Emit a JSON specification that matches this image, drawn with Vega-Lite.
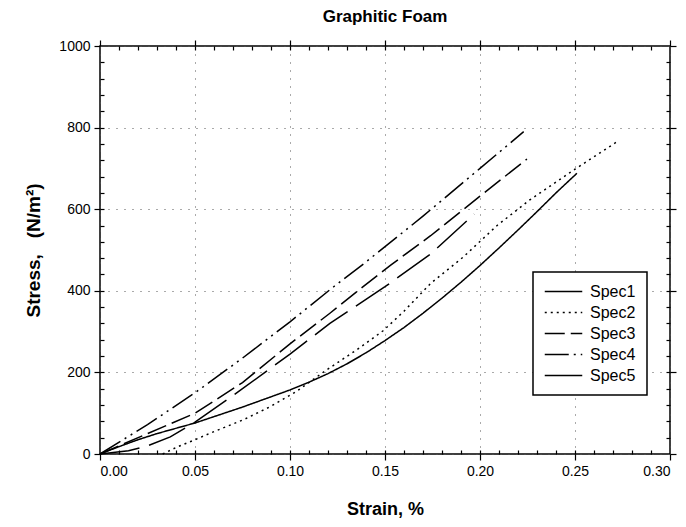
{
  "$schema": "https://vega.github.io/schema/vega-lite/v6.json",
  "width": 570,
  "height": 408,
  "autosize": "none",
  "padding": {"left": 100, "top": 46, "right": 16, "bottom": 73},
  "background": "white",
  "title": {
    "text": "Graphitic Foam",
    "font": "Liberation Sans",
    "fontSize": 17,
    "fontWeight": "bold",
    "color": "black",
    "anchor": "middle",
    "offset": 13
  },
  "config": {
    "view": {"stroke": "black", "strokeWidth": 1.5},
    "axis": {
      "labelFont": "Liberation Sans",
      "labelFontSize": 14,
      "labelColor": "black",
      "titleFont": "Liberation Sans",
      "titleFontSize": 18,
      "titleFontWeight": "bold",
      "titleColor": "black",
      "tickColor": "black",
      "tickWidth": 1.2,
      "gridColor": "#555",
      "gridDash": [1, 7],
      "gridWidth": 1,
      "domain": false
    },
    "legend": {
      "orient": "none",
      "legendX": 433,
      "legendY": 226,
      "strokeColor": "black",
      "strokeWidth": 1.5,
      "fillColor": "white",
      "padding": 11,
      "symbolType": "M -2.5 0 H 2.5",
      "symbolSize": 225,
      "symbolStrokeWidth": 1.5,
      "symbolStrokeColor": "black",
      "symbolFillColor": "transparent",
      "symbolOffset": 11,
      "labelOffset": 18,
      "labelFont": "Liberation Sans",
      "labelFontSize": 16,
      "labelColor": "black",
      "rowPadding": 4
    }
  },
  "data": {
    "values": [
      {"s": "Spec1", "x": 0, "y": 0},
      {"s": "Spec1", "x": 0.01, "y": 18},
      {"s": "Spec1", "x": 0.02, "y": 35},
      {"s": "Spec1", "x": 0.03, "y": 50},
      {"s": "Spec1", "x": 0.05, "y": 76},
      {"s": "Spec1", "x": 0.075, "y": 115},
      {"s": "Spec1", "x": 0.1, "y": 157},
      {"s": "Spec1", "x": 0.11, "y": 176},
      {"s": "Spec1", "x": 0.12, "y": 197},
      {"s": "Spec1", "x": 0.13, "y": 221},
      {"s": "Spec1", "x": 0.14, "y": 248},
      {"s": "Spec1", "x": 0.15, "y": 278},
      {"s": "Spec1", "x": 0.16, "y": 310},
      {"s": "Spec1", "x": 0.17, "y": 345},
      {"s": "Spec1", "x": 0.18, "y": 382},
      {"s": "Spec1", "x": 0.19, "y": 421},
      {"s": "Spec1", "x": 0.2, "y": 462},
      {"s": "Spec1", "x": 0.21, "y": 505},
      {"s": "Spec1", "x": 0.22, "y": 549},
      {"s": "Spec1", "x": 0.23, "y": 594},
      {"s": "Spec1", "x": 0.24, "y": 640},
      {"s": "Spec1", "x": 0.251, "y": 688},
      {"s": "Spec2", "x": 0.033, "y": 0},
      {"s": "Spec2", "x": 0.041, "y": 18},
      {"s": "Spec2", "x": 0.05, "y": 35},
      {"s": "Spec2", "x": 0.059, "y": 53},
      {"s": "Spec2", "x": 0.076, "y": 85},
      {"s": "Spec2", "x": 0.09, "y": 117},
      {"s": "Spec2", "x": 0.103, "y": 152},
      {"s": "Spec2", "x": 0.118, "y": 202},
      {"s": "Spec2", "x": 0.135, "y": 255},
      {"s": "Spec2", "x": 0.149, "y": 302},
      {"s": "Spec2", "x": 0.16, "y": 350},
      {"s": "Spec2", "x": 0.174, "y": 418},
      {"s": "Spec2", "x": 0.191, "y": 482},
      {"s": "Spec2", "x": 0.209, "y": 560},
      {"s": "Spec2", "x": 0.226, "y": 622},
      {"s": "Spec2", "x": 0.25, "y": 698},
      {"s": "Spec2", "x": 0.272, "y": 765},
      {"s": "Spec3", "x": 0, "y": 0},
      {"s": "Spec3", "x": 0.025, "y": 50},
      {"s": "Spec3", "x": 0.05, "y": 100},
      {"s": "Spec3", "x": 0.075, "y": 175},
      {"s": "Spec3", "x": 0.1, "y": 270},
      {"s": "Spec3", "x": 0.121, "y": 345},
      {"s": "Spec3", "x": 0.139, "y": 412},
      {"s": "Spec3", "x": 0.153, "y": 463},
      {"s": "Spec3", "x": 0.174, "y": 535},
      {"s": "Spec3", "x": 0.2, "y": 632},
      {"s": "Spec3", "x": 0.2247, "y": 723},
      {"s": "Spec4", "x": 0, "y": 0},
      {"s": "Spec4", "x": 0.025, "y": 72},
      {"s": "Spec4", "x": 0.05, "y": 150},
      {"s": "Spec4", "x": 0.075, "y": 235},
      {"s": "Spec4", "x": 0.1, "y": 324},
      {"s": "Spec4", "x": 0.123, "y": 410},
      {"s": "Spec4", "x": 0.139, "y": 467},
      {"s": "Spec4", "x": 0.17, "y": 583},
      {"s": "Spec4", "x": 0.2, "y": 700},
      {"s": "Spec4", "x": 0.223, "y": 790},
      {"s": "Spec5", "x": 0, "y": 0},
      {"s": "Spec5", "x": 0.015, "y": 8},
      {"s": "Spec5", "x": 0.025, "y": 20},
      {"s": "Spec5", "x": 0.037, "y": 42},
      {"s": "Spec5", "x": 0.05, "y": 78},
      {"s": "Spec5", "x": 0.075, "y": 160},
      {"s": "Spec5", "x": 0.1, "y": 245},
      {"s": "Spec5", "x": 0.121, "y": 320},
      {"s": "Spec5", "x": 0.15, "y": 410},
      {"s": "Spec5", "x": 0.174, "y": 490},
      {"s": "Spec5", "x": 0.197, "y": 588}
    ]
  },
  "layer": [
    {
      "mark": {"type": "line", "color": "black", "strokeWidth": 1.5},
      "encoding": {
        "x": {
          "field": "x",
          "type": "quantitative",
          "scale": {"domain": [0, 0.3], "nice": false, "zero": false},
          "axis": {
            "orient": "bottom",
            "values": [0, 0.05, 0.1, 0.15, 0.2, 0.25, 0.3],
            "format": ".2f",
            "title": "Strain, %",
            "grid": true,
            "tickSize": 6,
            "labelPadding": 4,
            "titlePadding": 22
          }
        },
        "y": {
          "field": "y",
          "type": "quantitative",
          "scale": {"domain": [0, 1000], "nice": false},
          "axis": {
            "orient": "left",
            "values": [0, 200, 400, 600, 800, 1000],
            "format": "d",
            "title": "Stress,\u00a0\u00a0\u00a0(N/m²)",
            "titleFontSize": 19,
            "grid": true,
            "tickSize": 6,
            "labelPadding": 4,
            "titlePadding": 15
          }
        },
        "strokeDash": {
          "field": "s",
          "type": "nominal",
          "scale": {
            "domain": ["Spec1", "Spec2", "Spec3", "Spec4", "Spec5"],
            "range": [[1, 0], [2, 4], [20, 6], [24, 5, 2, 5, 2, 5], [40, 10]]
          },
          "legend": {"title": null}
        }
      }
    },
    {
      "mark": {"type": "line", "strokeOpacity": 0},
      "encoding": {
        "x": {
          "field": "x",
          "type": "quantitative",
          "axis": {
            "orient": "bottom",
            "values": [0.01, 0.02, 0.03, 0.04, 0.05, 0.06, 0.07, 0.08, 0.09, 0.1, 0.11, 0.12, 0.13, 0.14, 0.15, 0.16, 0.17, 0.18, 0.19, 0.2, 0.21, 0.22, 0.23, 0.24, 0.25, 0.26, 0.27, 0.28, 0.29],
            "labels": false,
            "grid": false,
            "tickSize": -4,
            "title": null
          }
        },
        "y": {
          "field": "y",
          "type": "quantitative",
          "axis": {
            "orient": "left",
            "values": [40, 80, 120, 160, 200, 240, 280, 320, 360, 400, 440, 480, 520, 560, 600, 640, 680, 720, 760, 800, 840, 880, 920, 960],
            "labels": false,
            "grid": false,
            "tickSize": -4,
            "title": null
          }
        },
        "detail": {"field": "s"}
      }
    },
    {
      "mark": {"type": "line", "strokeOpacity": 0},
      "encoding": {
        "x": {
          "field": "x",
          "type": "quantitative",
          "axis": {
            "orient": "top",
            "values": [0, 0.05, 0.1, 0.15, 0.2, 0.25, 0.3],
            "labels": false,
            "grid": false,
            "tickSize": 6,
            "title": null
          }
        },
        "y": {
          "field": "y",
          "type": "quantitative",
          "axis": {
            "orient": "right",
            "values": [0, 200, 400, 600, 800, 1000],
            "labels": false,
            "grid": false,
            "tickSize": 6,
            "title": null
          }
        },
        "detail": {"field": "s"}
      }
    },
    {
      "mark": {"type": "line", "strokeOpacity": 0},
      "encoding": {
        "x": {
          "field": "x",
          "type": "quantitative",
          "axis": {
            "orient": "top",
            "values": [0.01, 0.02, 0.03, 0.04, 0.05, 0.06, 0.07, 0.08, 0.09, 0.1, 0.11, 0.12, 0.13, 0.14, 0.15, 0.16, 0.17, 0.18, 0.19, 0.2, 0.21, 0.22, 0.23, 0.24, 0.25, 0.26, 0.27, 0.28, 0.29],
            "labels": false,
            "grid": false,
            "tickSize": -4,
            "title": null
          }
        },
        "y": {
          "field": "y",
          "type": "quantitative",
          "axis": {
            "orient": "right",
            "values": [40, 80, 120, 160, 200, 240, 280, 320, 360, 400, 440, 480, 520, 560, 600, 640, 680, 720, 760, 800, 840, 880, 920, 960],
            "labels": false,
            "grid": false,
            "tickSize": -4,
            "title": null
          }
        },
        "detail": {"field": "s"}
      }
    }
  ],
  "resolve": {"axis": {"x": "independent", "y": "independent"}}
}
